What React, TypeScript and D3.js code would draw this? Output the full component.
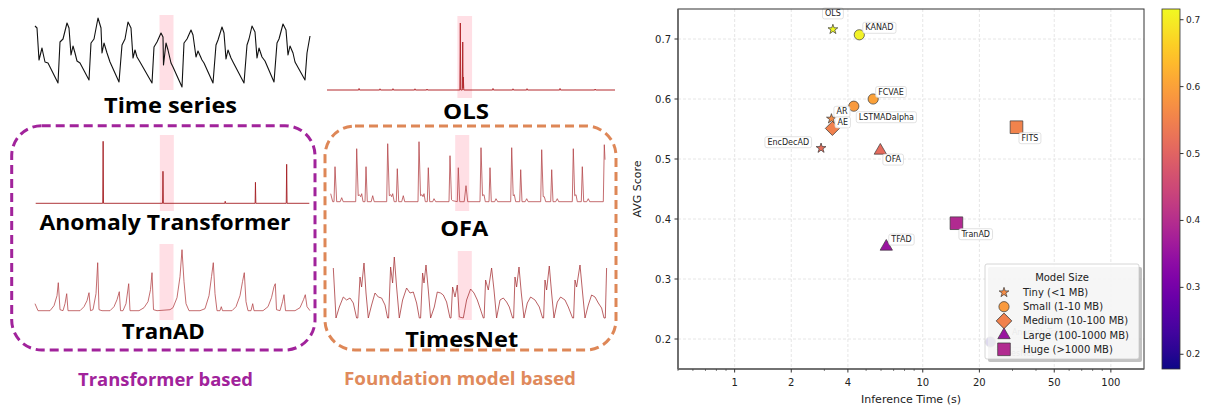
import React from "react";
import * as d3 from "d3";

type Pt = [number, number];

// ---- left panel: sketched series, time index 0..275, value in px-like units above baseline
const timeSeries: Pt[] = [
  [0, 64], [2, 62], [4, 30], [7, 42], [8, 37], [10, 28], [13, 27], [23, 7], [25, 48], [28, 51], [32, 67], [34, 62],
  [36, 35], [38, 44], [40, 37], [42, 29], [45, 27], [54, 10], [56, 47], [59, 51], [63, 72], [66, 62], [67, 37],
  [69, 47], [72, 37], [75, 28], [84, 8], [87, 45], [90, 51], [93, 68], [96, 62], [98, 32], [100, 40], [102, 33],
  [105, 28], [117, 7], [119, 43], [122, 48], [126, 57], [128, 53], [128.5, 25], [131, 47], [133, 40], [136, 27],
  [138, 23], [147, 3], [149, 47], [152, 51], [156, 60], [158, 55], [161, 33], [163, 39], [167, 30], [169, 27],
  [178, 7], [181, 45], [183, 50], [187, 63], [189, 57], [191, 31], [193, 40], [196, 32], [198, 28], [209, 7],
  [212, 45], [214, 51], [217, 64], [220, 58], [222, 32], [224, 42], [227, 33], [230, 29], [239, 8], [242, 47],
  [244, 51], [248, 66], [251, 60], [253, 35], [255, 44], [258, 37], [260, 28], [270, 10], [272, 37], [275, 54],
];

const olsScore: Pt[] = [
  [0, 0], [30.3, 0], [30.6, 1.5], [31, 0], [50.3, 0], [50.6, 1.2], [51, 0], [62.7, 0], [63, 1.3], [63.4, 0],
  [83.7, 0], [84, 1.2], [84.4, 0], [95.2, 0], [95.5, 1], [95.9, 0], [126.9, 0], [127.3, 67], [127.7, 0],
  [129.2, 0], [129.6, 48], [129.9, 2], [130.2, 13], [130.6, 0], [158.2, 0], [158.5, 1.5], [158.9, 0],
  [177.3, 0], [177.6, 1.2], [178, 0], [190.7, 0], [191, 1.3], [191.4, 0], [222.2, 0], [222.5, 1.5],
  [222.9, 0], [255.7, 0], [256, 1], [256.4, 0], [275, 0],
];

const anomalyTransformerScore: Pt[] = [
  [0, 0], [67.2, 0], [67.6, 62], [68, 0], [127.2, 0], [127.6, 32], [128, 0], [189.7, 0], [190, 2], [190.3, 0],
  [220, 0], [220.3, 21], [220.7, 0], [251.2, 0], [251.6, 39], [252, 0], [274.3, 0],
];

const tranADScore: Pt[] = [
  [0, 8], [3, 1], [15, 1], [19, 6], [22, 16], [23.3, 29], [25, 2], [28, 1], [30, 8], [31.7, 18], [33, 1],
  [45, 1], [49, 5], [52, 11], [54, 19], [55.5, 1], [58, 2], [61, 18], [62.7, 49], [64, 2], [67, 1], [75, 1],
  [79, 5], [82, 12], [84.3, 20], [85.5, 1], [88, 1], [91, 8], [93.7, 28], [95, 1], [104, 1], [109, 4],
  [113, 10], [115.5, 22], [117, 39], [118.5, 2], [122, 1], [135, 2], [138, 4], [142, 14], [145, 35], [147, 62],
  [149, 30], [151, 8], [154, 1], [165, 1], [170, 3], [174, 16], [176.5, 35], [178.3, 49], [180, 18], [182, 1],
  [185, 1], [186.3, 5], [187.5, 1], [197, 1], [201, 5], [205, 16], [207.5, 30], [209.3, 39], [211, 10],
  [213, 1], [216, 1], [217.7, 8], [219, 1], [228, 1], [233, 5], [236.5, 14], [239, 25], [240.3, 28],
  [241.5, 2], [245, 1], [247.5, 10], [249, 17], [250.5, 1], [260, 1], [265, 4], [268.5, 12], [270.3, 17],
  [272, 5], [275, 1],
];

const ofaScore: Pt[] = [
  [0, 8], [2, 0], [3.3, 0], [4.3, 35], [6, 0], [9.5, 0], [11, 4], [12.5, 0], [25, 0], [26, 53], [27.5, 6],
  [28.6, 7], [30, 5], [31, 8], [32.3, 0], [34.3, 0], [35.3, 35], [36.6, 0], [40.5, 0], [42, 6], [43.5, 0],
  [56, 0], [57, 58], [58.6, 6], [60, 7], [61, 5], [62, 8], [63.5, 0], [65.6, 0], [66.6, 33], [68, 0], [71, 0],
  [72.6, 6], [74, 0], [87.3, 0], [88.3, 60], [89.8, 6], [91.3, 7], [92.3, 5], [93.3, 8], [94.6, 0], [96.6, 0],
  [97.6, 34], [99, 0], [102, 0], [103.3, 3], [105, 0], [118.3, 0], [119.3, 46], [120.8, 2], [122, 1],
  [126.6, 0], [127.6, 34], [129, 0], [133.5, 0], [135.3, 16], [137, 0], [149.3, 0], [150.3, 54], [151.8, 6],
  [153.3, 7], [154.6, 0], [158.3, 0], [159.3, 34], [160.6, 0], [164, 0], [165.3, 3], [167, 0], [180, 0],
  [181, 54], [182.5, 6], [183.6, 7], [185, 0], [189, 0], [190, 32], [191.3, 0], [194.5, 0], [196, 3],
  [197.5, 0], [210, 0], [211, 52], [212.5, 5], [213.6, 5], [215, 0], [220, 0], [221, 32], [222.3, 0],
  [225, 0], [226.6, 3], [228, 0], [241.6, 0], [242.6, 53], [244, 6], [245.3, 7], [246.6, 0], [250.6, 0],
  [251.6, 35], [253, 0], [256, 0], [257.6, 3], [259, 0], [272.6, 0], [273.6, 57], [274.3, 42],
];

const timesNetScore: Pt[] = [
  [0, 52], [2.7, 2], [6, 13], [10, 23], [13.3, 20], [16.7, 22], [20, 17], [23.3, 2], [24.5, 2], [26.7, 43], [28.3, 33],
  [30.7, 57], [32.7, 27], [35, 2], [38.3, 15], [41.7, 27], [45, 23], [48.3, 22], [51.7, 15], [54.3, 2], [55.3, 2],
  [57.3, 53], [59.3, 37], [61, 63], [63.3, 33], [66, 2], [69.3, 20], [73.3, 32], [76.7, 27], [80, 28],
  [83.3, 17], [86, 2], [87.3, 2], [89.3, 47], [90.7, 37], [92.7, 55], [95, 30], [97.3, 2], [101, 13], [104, 28],
  [107.3, 27], [110, 25], [113.3, 18], [116.7, 2], [117.7, 2], [119.3, 33], [121.7, 23], [124, 35], [126, 3], [130, 2],
  [133.3, 20], [137.3, 31], [140.7, 27], [144, 20], [146.7, 12], [150, 2], [150.8, 2], [152.3, 40], [155, 30], [158.3, 52],
  [160.7, 30], [163.3, 2], [166.7, 20], [170, 22], [173.3, 18], [176, 13], [179.3, 2], [180.3, 2], [181.7, 43], [183.3, 33],
  [185.7, 53], [188, 27], [190.7, 2], [194, 17], [197.3, 23], [201.7, 20], [206, 13], [209.3, 2], [210.3, 2], [211.7, 40],
  [213.3, 30], [216, 54], [218.3, 27], [220.7, 2], [224, 18], [227.3, 23], [231.7, 20], [235, 13], [239.3, 2], [240.3, 2],
  [241.7, 40], [243.3, 33], [246.7, 55], [249.3, 27], [251.7, 2], [255, 15], [258.3, 25], [261.7, 23],
  [265, 17], [268.3, 12], [270.7, 2], [272, 2], [273.3, 52],
];

const anomalyWindow: [number, number] = [124.5, 138.5];

// ---- right panel: scatter data
const models = ["OLS", "KANAD", "FCVAE", "LSTMADalpha", "AR", "AE", "EncDecAD", "OFA", "FITS", "TranAD", "TFAD", "AnomalyTransformer", "TimesNet"];
const inferenceTime = [3.33, 4.6, 5.45, 4.3, 3.27, 3.31, 2.88, 5.95, 31.5, 15.1, 6.4, 27, 22.9];
const avgScore = [0.716, 0.707, 0.6, 0.588, 0.567, 0.551, 0.518, 0.514, 0.553, 0.393, 0.354, 0.178, 0.195];
const modelSize = ["Tiny", "Small", "Small", "Small", "Tiny", "Medium", "Tiny", "Large", "Huge", "Huge", "Large", "Huge", "Small"];
const sizeClasses = ["Tiny", "Small", "Medium", "Large", "Huge"];
const sizeLabels = ["Tiny (<1 MB)", "Small (1-10 MB)", "Medium (10-100 MB)", "Large (100-1000 MB)", "Huge (>1000 MB)"];
const legendColorModel = ["AR", "LSTMADalpha", "AE", "TFAD", "TranAD"];
const xTicks = [1, 2, 4, 10, 20, 50, 100];
const yTicks = [0.2, 0.3, 0.4, 0.5, 0.6, 0.7];
const cbTicks = [0.2, 0.3, 0.4, 0.5, 0.6, 0.7];

const FONT = "DejaVu Sans, sans-serif";
const TITLE_FONT = "'Open Sans', Inter, sans-serif";

let ctx: CanvasRenderingContext2D | null = null;
function textWidth(s: string, size: number) {
  if (!ctx) ctx = document.createElement("canvas").getContext("2d");
  if (!ctx) return s.length * size * 0.6;
  ctx.font = `${size}px "DejaVu Sans"`;
  return ctx.measureText(s).width;
}

const panels = [
  { title: "Time series", data: timeSeries, x0: 35, x1: 310, base: 90, hl: [15, 90], tx: 170.5, ty: 113, tw: 133, stroke: "#111", sw: 1.1 },
  { title: "OLS", data: olsScore, x0: 327, x1: 615, base: 90, hl: [16, 98], tx: 466, ty: 119, tw: 46, stroke: "#b3282d", sw: 1 },
  { title: "Anomaly Transformer", data: anomalyTransformerScore, x0: 35.7, x1: 310, base: 203.3, hl: [135, 211], tx: 165, ty: 230, tw: 251, stroke: "#a51f24", sw: 0.9 },
  { title: "TranAD", data: tranADScore, x0: 35, x1: 310, base: 311.7, hl: [244, 320], tx: 163.3, ty: 339, tw: 83, stroke: "#b5484b", sw: 0.8 },
  { title: "OFA", data: ofaScore, x0: 330.7, x1: 605.7, base: 201.7, hl: [135, 211], tx: 464.3, ty: 236, tw: 48, stroke: "#b5484b", sw: 0.8 },
  { title: "TimesNet", data: timesNetScore, x0: 333.3, x1: 608.3, base: 320, hl: [251, 320], tx: 461.7, ty: 347, tw: 113, stroke: "#a8383c", sw: 0.8 },
];

function symbolPath(kind: string) {
  if (kind === "Tiny") return d3.symbol(d3.symbolStar, 30)() as string;
  if (kind === "Small") return d3.symbol(d3.symbolCircle, 82)() as string;
  if (kind === "Medium") return d3.symbol(d3.symbolSquare, 100)() as string;
  if (kind === "Large") return d3.symbol(d3.symbolTriangle, 66)() as string;
  return d3.symbol(d3.symbolSquare, 160)() as string;
}

// label offsets for the annotations
const labelPos: Record<string, [number, number, string]> = {
  OLS: [0, -16, "middle"], KANAD: [6, -7, "start"], FCVAE: [5, -7, "start"], LSTMADalpha: [5, 11, "start"],
  AR: [5, -7, "start"], AE: [5, -6, "start"], EncDecAD: [-12, -6, "end"], OFA: [5, 9, "start"],
  FITS: [5, 11, "start"], TranAD: [5, 11, "start"], TFAD: [5, -7, "start"], AnomalyTransformer: [8, -20, "start"],
  TimesNet: [6, 11, "start"],
};

export default function App() {
  const x = d3.scaleLog().domain([0.5, 150]).range([678, 1144]);
  const y = d3.scaleLinear().domain([0.15, 0.75]).range([369, 9]);
  const [cMin, cMax] = d3.extent(avgScore) as [number, number];
  const color = d3.scaleSequential(d3.interpolatePlasma).domain([cMin, cMax]);
  const cb = d3.scaleLinear().domain([cMin, cMax]).range([369, 9]);
  const minor = x.ticks().filter((t) => !xTicks.includes(t));

  const gradStops = d3.range(0, 1.0001, 0.05);

  return (
    <svg width={1205} height={408} style={{ position: "absolute", left: 0, top: 0, background: "#fff" }}>
      <defs>
        <linearGradient id="cbg" x1="0" y1="1" x2="0" y2="0">
          {gradStops.map((s) => (
            <stop key={s} offset={s} stopColor={d3.interpolatePlasma(s)} />
          ))}
        </linearGradient>
      </defs>

      {/* ---- left: sketches ---- */}
      <rect x={11.7} y={125.7} width={303.3} height={224.3} rx={30} fill="none" stroke="#a1239b" strokeWidth={3} strokeDasharray="9 5" />
      <rect x={325} y={126} width={291} height={224} rx={30} fill="none" stroke="#de8757" strokeWidth={3} strokeDasharray="9 5" />
      {panels.map((p) => {
        const sx = d3.scaleLinear().domain([0, 275]).range([p.x0, p.x1]);
        const sy = d3.scaleLinear().domain([0, 100]).range([p.base, p.base - 100]);
        const line = d3.line<Pt>().x((d) => sx(d[0])).y((d) => sy(d[1]));
        return (
          <g key={p.title}>
            <rect x={sx(anomalyWindow[0])} y={p.hl[0]} width={sx(anomalyWindow[1]) - sx(anomalyWindow[0])} height={p.hl[1] - p.hl[0]} fill="#ffd9e0" opacity={0.85} />
            <path d={line(p.data) as string} fill="none" stroke={p.stroke} strokeWidth={p.sw} strokeLinejoin="round" />
            <text x={p.tx} y={p.ty} textAnchor="middle" fontFamily={TITLE_FONT} fontWeight={700} fontSize={21}
              textLength={p.tw} lengthAdjust="spacingAndGlyphs" fill="#000">{p.title}</text>
          </g>
        );
      })}
      <text x={165.5} y={386} textAnchor="middle" fontFamily={TITLE_FONT} fontWeight={700} fontSize={17}
        textLength={175} lengthAdjust="spacingAndGlyphs" fill="#a1239b">Transformer based</text>
      <text x={460} y={385} textAnchor="middle" fontFamily={TITLE_FONT} fontWeight={700} fontSize={17}
        textLength={232} lengthAdjust="spacingAndGlyphs" fill="#e08a5c">Foundation model based</text>

      {/* ---- right: scatter ---- */}
      <g fontFamily={FONT}>
        {yTicks.map((t) => (
          <line key={"gy" + t} x1={678} x2={1144} y1={y(t)} y2={y(t)} stroke="#e0e0e0" strokeWidth={0.8} strokeDasharray="3 2" />
        ))}
        {xTicks.map((t) => (
          <line key={"gx" + t} x1={x(t)} x2={x(t)} y1={9} y2={369} stroke="#e0e0e0" strokeWidth={0.8} strokeDasharray="3 2" />
        ))}

        {models.map((m, i) => (
          <path key={m} d={symbolPath(modelSize[i])} transform={`translate(${x(inferenceTime[i])},${y(avgScore[i])})${modelSize[i] === "Medium" ? " rotate(45)" : ""}`}
            fill={color(avgScore[i])} stroke="#3a3a3a" strokeWidth={0.7} />
        ))}
        {models.map((m, i) => {
          const [dx, dy, anchor] = labelPos[m];
          const px = x(inferenceTime[i]) + dx;
          const py = y(avgScore[i]) + dy;
          const w = textWidth(m, 8);
          const left = anchor === "start" ? px : anchor === "end" ? px - w : px - w / 2;
          return (
            <g key={"l" + m}>
              <rect x={left - 2.5} y={py - 5.5} width={w + 5} height={11} rx={2} fill="#fff" fillOpacity={0.9} stroke="#d6d6d6" strokeWidth={0.7} />
              <text x={px} y={py} textAnchor={anchor} dominantBaseline="central" fontSize={8} fill="#222">{m}</text>
            </g>
          );
        })}

        {/* frame */}
        <rect x={678} y={9} width={466} height={360} fill="none" stroke="#333" strokeWidth={1} />
        <line x1={678} x2={678} y1={9} y2={369} stroke="#666" strokeWidth={1.6} />
        <line x1={678} x2={1144} y1={369} y2={369} stroke="#666" strokeWidth={1.6} />

        {yTicks.map((t) => (
          <g key={"ty" + t}>
            <line x1={674.5} x2={678} y1={y(t)} y2={y(t)} stroke="#333" />
            <text x={671} y={y(t)} dominantBaseline="central" textAnchor="end" fontSize={10} fill="#222">{t.toFixed(1)}</text>
          </g>
        ))}
        {xTicks.map((t) => (
          <g key={"tx" + t}>
            <line x1={x(t)} x2={x(t)} y1={369} y2={372.5} stroke="#333" />
            <text x={x(t)} y={386} textAnchor="middle" fontSize={10} fill="#222">{t}</text>
          </g>
        ))}
        {minor.map((t) => (
          <line key={"mx" + t} x1={x(t)} x2={x(t)} y1={369} y2={371} stroke="#333" strokeWidth={0.6} />
        ))}
        <text x={911} y={403} textAnchor="middle" fontSize={11} fill="#222">Inference Time (s)</text>
        <text transform="translate(641,189) rotate(-90)" textAnchor="middle" fontSize={11} fill="#222">AVG Score</text>

        {/* legend */}
        <rect x={988} y={267} width={154} height={95} rx={2} fill="#999" opacity={0.6} />
        <rect x={985} y={264} width={154} height={95} rx={2} fill="#fff" fillOpacity={0.85} stroke="#ccc" strokeWidth={0.8} />
        <text x={1062} y={281} textAnchor="middle" fontSize={10} fill="#222">Model Size</text>
        {sizeClasses.map((s, i) => {
          const cy = 292.5 + i * 14.2;
          const rep = legendColorModel[i];
          const c = color(avgScore[models.indexOf(rep)]);
          return (
            <g key={"lg" + s}>
              <path d={symbolPath(s)} transform={`translate(1004,${cy})${s === "Medium" ? " rotate(45) scale(1.1)" : ""}`} fill={c} stroke="#3a3a3a" strokeWidth={0.7} />
              <text x={1023} y={cy} dominantBaseline="central" fontSize={10} fill="#222">{sizeLabels[i]}</text>
            </g>
          );
        })}

        {/* colorbar */}
        <rect x={1162} y={9} width={18} height={360} fill="url(#cbg)" stroke="#333" strokeWidth={0.8} />
        {cbTicks.map((t) => (
          <g key={"cb" + t}>
            <line x1={1180} x2={1183.5} y1={cb(t)} y2={cb(t)} stroke="#333" />
            <text x={1186} y={cb(t)} dominantBaseline="central" fontSize={9} fill="#222">{t.toFixed(1)}</text>
          </g>
        ))}
      </g>
    </svg>
  );
}
